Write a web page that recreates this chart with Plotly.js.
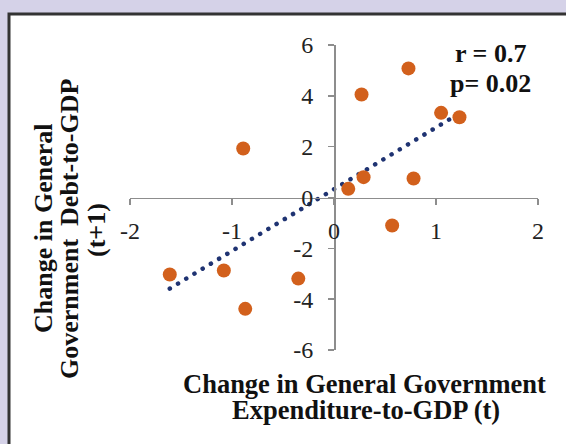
<!DOCTYPE html>
<html><head><meta charset="utf-8">
<script src="https://cdn.plot.ly/plotly-3.0.1.min.js"></script>
<style>html,body{margin:0;padding:0;background:#d5d2e8;overflow:hidden;}#chart{width:566px;height:444px;}</style>
</head><body><div id="chart"></div>
<script>
// Data
const expenditureChange = [0.73, 0.27, 1.05, 1.23, 0.29, 0.14, 0.78, 0.57, -0.89, -1.61, -1.08, -0.87, -0.35];
const debtChange        = [5.08, 4.05, 3.33, 3.16, 0.80, 0.34, 0.75, -1.10, 1.93, -3.03, -2.87, -4.38, -3.19];
const xTickVals = [-2, -1, 0, 1, 2];
const xTickText = ['-2', '-1', '0', '1', '2'];
const yTickVals = [-6, -4, -2, 0, 2, 4, 6];
const yTickText = ['-6', '-4', '-2', '0', '2', '4', '6'];
const statLabels = ['r = 0.7', 'p= 0.02'];
const xTitleLines = ['Change in General Government', 'Expenditure-to-GDP (t)'];
const yTitleLines = ['Change in General', 'Government\u00a0\u00a0Debt-to-GDP', '(t+1)'];

// Linear (OLS) trend line computed from the data
const n = expenditureChange.length;
const mx = expenditureChange.reduce((a, b) => a + b, 0) / n;
const my = debtChange.reduce((a, b) => a + b, 0) / n;
let sxy = 0, sxx = 0;
for (let i = 0; i < n; i++) {
  sxy += (expenditureChange[i] - mx) * (debtChange[i] - my);
  sxx += (expenditureChange[i] - mx) ** 2;
}
const slope = sxy / sxx, intercept = my - slope * mx;
const xmin = Math.min(...expenditureChange), xmax = Math.max(...expenditureChange);
const trendX = [xmin, xmax];
const trendY = trendX.map(x => intercept + slope * x);

const W = 566, H = 444, L = 130, R = 28, T = 45, B = 94;
const pw = W - L - R, ph = H - T - B;
const fx = px => (px - L) / pw;
const fy = py => (H - B - py) / ph;

const FONT = '"Liberation Serif", "Times New Roman", Times, serif';
const axisColor = '#8d8d8d';

const traces = [
  {
    x: trendX, y: trendY, mode: 'lines', type: 'scatter',
    line: {color: '#1f3372', width: 4.5, dash: 'dot'},
    hoverinfo: 'skip', showlegend: false
  },
  {
    x: expenditureChange, y: debtChange, mode: 'markers', type: 'scatter',
    marker: {color: '#d2601c', size: 14, line: {width: 0}},
    showlegend: false, cliponaxis: false
  }
];

const annotations = [];
[[490, 54], [490, 84]].forEach((p, i) => annotations.push({
  xref: 'paper', yref: 'paper', x: fx(p[0]), y: fy(p[1]),
  xanchor: 'center', yanchor: 'middle', showarrow: false,
  text: '<b>' + statLabels[i] + '</b>',
  font: {family: FONT, size: 26, color: '#111'}
}));
[[364, 384], [366, 410]].forEach((p, i) => annotations.push({
  xref: 'paper', yref: 'paper', x: fx(p[0]), y: fy(p[1]),
  xanchor: 'center', yanchor: 'middle', showarrow: false,
  text: '<b>' + xTitleLines[i] + '</b>',
  font: {family: FONT, size: 26.5, color: '#111'}
}));
[[43, 229], [69, 229], [96, 230]].forEach((p, i) => annotations.push({
  xref: 'paper', yref: 'paper', x: fx(p[0]), y: fy(p[1]),
  xanchor: 'center', yanchor: 'middle', showarrow: false, textangle: -90,
  text: '<b>' + yTitleLines[i] + '</b>',
  font: {family: FONT, size: 26, color: '#111'}
}));

const layout = {
  width: W, height: H,
  margin: {l: L, r: R, t: T, b: B, pad: 0},
  paper_bgcolor: '#d5d2e8',
  plot_bgcolor: 'rgba(0,0,0,0)',
  showlegend: false,
  font: {family: FONT, color: '#222'},
  xaxis: {
    range: [-2, 2], anchor: 'free', position: 0.5,
    showgrid: false, zeroline: false,
    showline: true, linecolor: axisColor, linewidth: 1.6,
    ticks: 'outside', ticklen: 6, tickwidth: 1.6, tickcolor: axisColor,
    tickvals: xTickVals, ticktext: xTickText,
    tickfont: {family: FONT, size: 24, color: '#222'},
    ticklabelstandoff: 5
  },
  yaxis: {
    range: [-6, 6], anchor: 'free', position: 0.5,
    showgrid: false, zeroline: false,
    showline: true, linecolor: axisColor, linewidth: 1.6,
    ticks: 'outside', ticklen: 6, tickwidth: 1.6, tickcolor: axisColor,
    tickvals: yTickVals, ticktext: yTickText,
    tickfont: {family: FONT, size: 24, color: '#222'},
    ticklabelstandoff: 10
  },
  shapes: [{
    type: 'rect', xref: 'paper', yref: 'paper', layer: 'below',
    x0: fx(9), x1: fx(W + 20), y0: fy(14), y1: fy(H + 20),
    fillcolor: '#ffffff', line: {color: '#333333', width: 3}
  }],
  annotations: annotations
};

Plotly.newPlot('chart', traces, layout, {staticPlot: true, displayModeBar: false}).then(gd => {
  const path = gd.querySelector('.scatterlayer .trace .js-line');
  if (path) {
    path.style.strokeDasharray = '0.1px,9.5px';
    path.style.strokeLinecap = 'round';
  }
});
</script>
</body></html>
